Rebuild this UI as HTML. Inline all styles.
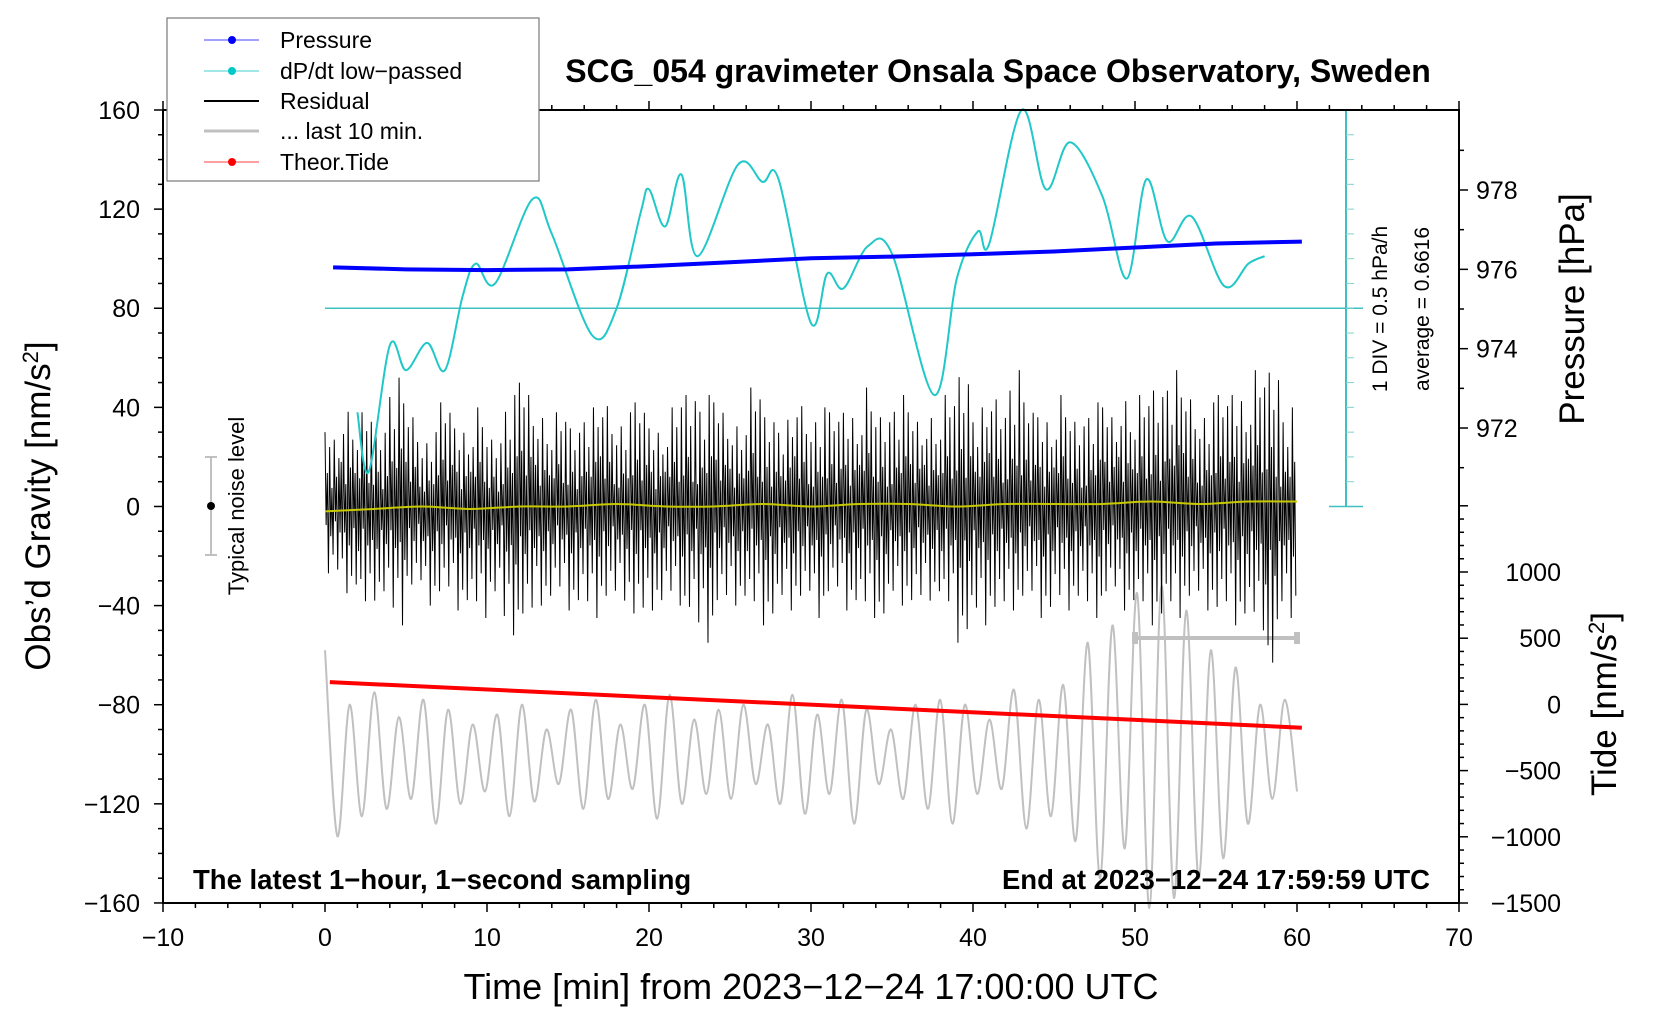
<!DOCTYPE html>
<html><head><meta charset="utf-8"><style>
html,body{margin:0;padding:0;background:#fff}
svg{display:block;font-family:"Liberation Sans",sans-serif}
</style></head><body>
<svg id="c" width="1660" height="1020" viewBox="0 0 1660 1020"></svg>
<script>
// ---- data ----
const xTicks=[-10,0,10,20,30,40,50,60,70];
const gTicks=[-160,-120,-80,-40,0,40,80,120,160];
const pTicks=[972,974,976,978];
const tTicks=[-1500,-1000,-500,0,500,1000];
const pressT=[0.5,5,10,15,20,25,30,35,40,45,50,55,60.3];
const pressV=[976.05,976.0,975.98,976.0,976.08,976.18,976.28,976.32,976.38,976.45,976.55,976.65,976.7];
const cyT=[2,2.7,4,5,6.3,7.4,8.5,9.3,10.5,12.8,14,16.5,18,19.5,20,21,22,23,25.5,27,28,30,31,32,33.5,35,37.6,39,40.3,41,43,44.5,46,48,49.5,50.7,52,53.5,55.5,57,58];
const cyV=[38,14,65,55,66,55,85,98,90,124,110,69,80,119,128,113,134,101,138,131,132,74,94,88,105,102,45,92,111,106,160,128,147,125,92,132,107,117,89,98,101];
const resHi=[30,45,38,35,52,40,30,42,35,40,30,45,50,42,38,35,40,45,38,42,35,40,50,45,42,38,48,40,35,45,40,38,42,48,40,45,38,42,45,58,40,48,55,42,40,45,38,42,40,50,45,52,55,48,42,45,50,55,60,40];
const resLo=[-30,-35,-45,-38,-48,-35,-40,-38,-42,-45,-38,-52,-48,-40,-38,-42,-45,-40,-38,-48,-42,-40,-45,-55,-42,-40,-45,-48,-42,-40,-45,-38,-42,-45,-48,-40,-42,-38,-45,-55,-48,-45,-42,-40,-45,-42,-40,-45,-38,-42,-45,-48,-45,-40,-42,-45,-48,-50,-70,-45];
const grayV=[-58,-133,-80,-125,-75,-122,-85,-118,-78,-128,-82,-120,-88,-115,-84,-125,-80,-119,-90,-112,-82,-122,-78,-118,-88,-114,-80,-126,-76,-120,-86,-116,-82,-118,-80,-112,-88,-120,-76,-124,-84,-116,-78,-128,-82,-112,-90,-118,-80,-122,-78,-128,-80,-116,-86,-114,-74,-130,-78,-125,-72,-135,-55,-150,-48,-138,-35,-162,-32,-158,-42,-150,-58,-142,-65,-128,-80,-118,-78,-115];
const tideT=[0.3,60.3];
const tideV=[168,-176];
const yelV=[-2,-1,0,-1,0,0,1,0,0,1,0,1,1,0,1,1,1,2,1,2,2];
// ---- scales ----
const X=t=>325+t*16.2;
const YG=g=>110+(160-g)*2.478;
const YP=p=>190+(978-p)*39.67;
const YT=v=>572+(1000-v)*0.1324;
const NS="http://www.w3.org/2000/svg";
const svg=document.getElementById('c');
function el(tag,attrs,parent){const e=document.createElementNS(NS,tag);for(const k in attrs)e.setAttribute(k,attrs[k]);(parent||svg).appendChild(e);return e;}
function txt(s,attrs,parent){const e=el('text',attrs,parent);e.textContent=s;return e;}
function smooth(pts){let d=`M${pts[0][0]},${pts[0][1]}`;for(let i=0;i<pts.length-1;i++){const p0=pts[i-1]||pts[i],p1=pts[i],p2=pts[i+1],p3=pts[i+2]||p2;d+=` C${p1[0]+(p2[0]-p0[0])/6},${p1[1]+(p2[1]-p0[1])/6} ${p2[0]-(p3[0]-p1[0])/6},${p2[1]-(p3[1]-p1[1])/6} ${p2[0]},${p2[1]}`;}return d;}

let gp=grayV.map((v,i)=>[X(i*60/(grayV.length-1)),YG(v)]);
let g=el('path',{d:smooth(gp),fill:'none',stroke:'#c0c0c0','stroke-width':2});


let gb=el('g',{});


el('line',{x1:X(50),x2:X(60),y1:638,y2:638,stroke:'#c0c0c0','stroke-width':4},gb);
el('rect',{x:X(50)-3,y:632,width:6,height:12,fill:'#c0c0c0'},gb);
el('rect',{x:X(60)-3,y:632,width:6,height:12,fill:'#c0c0c0'},gb);

let rd='';
const pat=[1,0.45,0.8,0.25,0.9,0.4,0.65,0.2,0.85,0.35,0.6,0.3];
for(let m=0;m<resHi.length;m++){for(let k=0;k<7;k++){const t=m+k/7;rd+=(rd?'L':'M')+X(t)+','+YG(resHi[m]*pat[(k+m*5)%12])+'L'+X(t+0.07)+','+YG(resLo[m]*pat[(k+m*7+3)%12]);}}
let r=el('path',{d:rd,fill:'none',stroke:'#000','stroke-width':1});


let yl=el('path',{d:smooth(yelV.map((v,i)=>[X(i*60/(yelV.length-1)),YG(v)])),fill:'none',stroke:'#c8c800','stroke-width':2});



let td=el('line',{x1:X(tideT[0]),y1:YT(tideV[0]),x2:X(tideT[1]),y2:YT(tideV[1]),stroke:'#ff0000','stroke-width':4});



let cb=el('line',{x1:X(0),x2:1363,y1:YG(80),y2:YG(80),stroke:'#40c0c0','stroke-width':1.5});


let cy=el('path',{d:smooth(cyT.map((t,i)=>[X(t),YG(cyV[i])])),fill:'none',stroke:'#20c8c8','stroke-width':2});


let sb=el('g',{});


el('line',{x1:1346,x2:1346,y1:YG(160),y2:YG(0),stroke:'#40c0c0','stroke-width':2},sb);
el('line',{x1:1329,x2:1363,y1:YG(0),y2:YG(0),stroke:'#40c0c0','stroke-width':1.5},sb);
el('line',{x1:1329,x2:1363,y1:YG(160),y2:YG(160),stroke:'#40c0c0','stroke-width':1.5},sb);
for(let v=10;v<160;v+=10)el('line',{x1:1346,x2:1354,y1:YG(v),y2:YG(v),stroke:'#80d0d0','stroke-width':1},sb);

let pd='';for(let i=0;i<pressT.length;i++)pd+=(i?'L':'M')+X(pressT[i])+','+YP(pressV[i]);
let pr=el('path',{d:pd,fill:'none',stroke:'#0000ff','stroke-width':4});



let fr=el('rect',{x:163,y:110,width:1296,height:793,fill:'none',stroke:'#000','stroke-width':2});


for(let t=-10;t<=70;t+=2){const big=t%10===0;el('line',{x1:X(t),x2:X(t),y1:903,y2:903+(big?9:5),stroke:'#000','stroke-width':1.5});el('line',{x1:X(t),x2:X(t),y1:110,y2:110-(big?9:5),stroke:'#000','stroke-width':1.5});}
xTicks.forEach(t=>{const e=txt(String(t).replace('-','−'),{x:X(t),y:946,'font-size':25,'text-anchor':'middle'});});
for(let v=-160;v<=160;v+=10){const big=v%40===0;el('line',{x1:163,x2:163-(big?9:5),y1:YG(v),y2:YG(v),stroke:'#000','stroke-width':1.5});}
gTicks.forEach(v=>{const e=txt(String(v).replace('-','−'),{x:140,y:YG(v)+9,'font-size':25,'text-anchor':'end'});});
for(let p=971;p<=979;p++){el('line',{x1:1459,x2:1459+(p%2===0?9:5),y1:YP(p),y2:YP(p),stroke:'#000','stroke-width':1.5});}
pTicks.forEach(p=>{const e=txt(String(p),{x:1476,y:YP(p)+9,'font-size':25});});
for(let v=-1500;v<=1500;v+=100){el('line',{x1:1459,x2:1459+(v%500===0?9:5),y1:YT(v),y2:YT(v),stroke:'#000','stroke-width':1.5});}
tTicks.forEach(v=>{const e=txt(String(v).replace('-','−'),{x:1561,y:YT(v)+9,'font-size':25,'text-anchor':'end'});});

let nb=el('g',{});


el('line',{x1:211,x2:211,y1:457,y2:555,stroke:'#c0c0c0','stroke-width':2},nb);
el('line',{x1:205,x2:217,y1:457,y2:457,stroke:'#c0c0c0','stroke-width':2},nb);
el('line',{x1:205,x2:217,y1:555,y2:555,stroke:'#c0c0c0','stroke-width':2},nb);
el('circle',{cx:211,cy:506,r:4,fill:'#000'},nb);
</script>
<svg width="1660" height="1020" style="position:absolute;left:0;top:0;font-family:'Liberation Sans',sans-serif">
<text x="998" y="82" font-size="32" font-weight="bold" text-anchor="middle">SCG_054 gravimeter Onsala Space Observatory, Sweden</text>
<text x="811" y="999" font-size="36" text-anchor="middle">Time [min] from 2023−12−24 17:00:00 UTC</text>
<text transform="translate(50,506) rotate(-90)" font-size="35" text-anchor="middle">Obs’d Gravity [nm/s<tspan dy="-12" font-size="22">2</tspan><tspan dy="12">]</tspan></text>
<text transform="translate(1584,309) rotate(-90)" font-size="35" text-anchor="middle">Pressure [hPa]</text>
<text transform="translate(1616,704) rotate(-90)" font-size="35" text-anchor="middle">Tide [nm/s<tspan dy="-12" font-size="22">2</tspan><tspan dy="12">]</tspan></text>
<text transform="translate(1387,309) rotate(-90)" font-size="21" text-anchor="middle">1 DIV = 0.5 hPa/h</text>
<text transform="translate(1429,309) rotate(-90)" font-size="21" text-anchor="middle">average = 0.6616</text>
<text transform="translate(244,506) rotate(-90)" font-size="22" text-anchor="middle">Typical noise level</text>
<text x="193" y="889" font-size="27.5" font-weight="bold">The latest 1−hour, 1−second sampling</text>
<text x="1430" y="889" font-size="27.5" font-weight="bold" text-anchor="end">End at 2023−12−24 17:59:59 UTC</text>
<g>
<rect x="167" y="18" width="372" height="163" fill="#fff" stroke="#777" stroke-width="1.2"/>
<g><line x1="204" x2="259" y1="40" y2="40" stroke="#4040ff"/><circle cx="232" cy="40" r="4" fill="#0000ff"/><text x="280" y="48" font-size="23">Pressure</text></g>
<g><line x1="204" x2="259" y1="71" y2="71" stroke="#40d0d0"/><circle cx="232" cy="71" r="4" fill="#00c8c8"/><text x="280" y="79" font-size="23">dP/dt low−passed</text></g>
<g><line x1="204" x2="259" y1="101" y2="101" stroke="#000" stroke-width="2"/><text x="280" y="109" font-size="23">Residual</text></g>
<g><line x1="204" x2="259" y1="131" y2="131" stroke="#c0c0c0" stroke-width="3"/><text x="280" y="139" font-size="23">... last 10 min.</text></g>
<g><line x1="204" x2="259" y1="162" y2="162" stroke="#ff4040"/><circle cx="232" cy="162" r="4" fill="#ff0000"/><text x="280" y="170" font-size="23">Theor.Tide</text></g>
</g>
</svg>
</body></html>
